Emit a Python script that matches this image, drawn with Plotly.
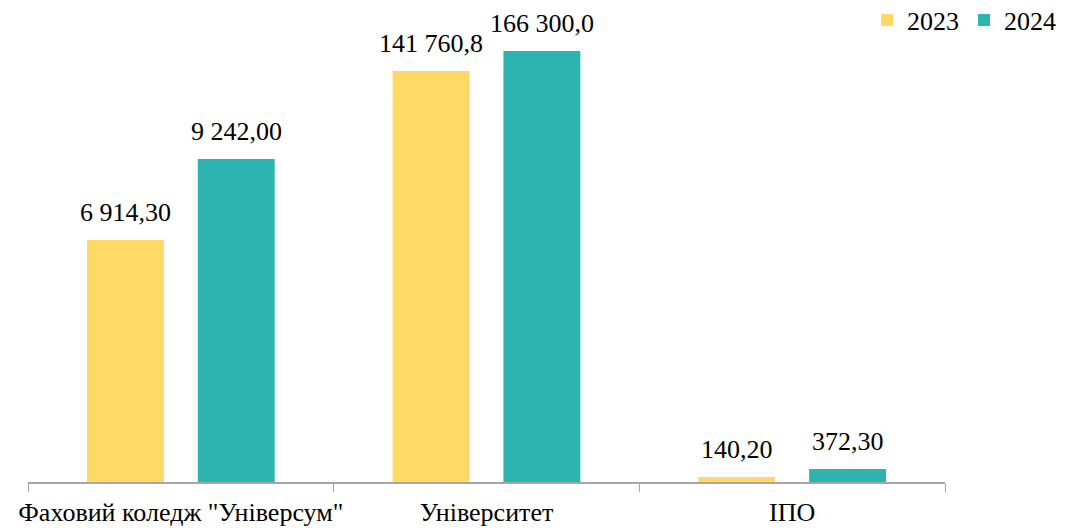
import plotly.graph_objects as go

# categories and series
categories = ['Фаховий коледж "Універсум"', 'Університет', 'ІПО']
years = ['2023', '2024']

# value labels as printed on the chart
labels_2023 = ['6 914,30', '141 760,8', '140,20']
labels_2024 = ['9 242,00', '166 300,0', '372,30']

# bar heights as drawn in the picture (the source chart is not to one scale)
height_2023 = [242, 411, 5]
height_2024 = [323, 431, 13]

colors = {'2023': '#FFD966', '2024': '#2BB4B0'}
FONT = 'Liberation Serif'

fig = go.Figure()

for year, heights in zip(years, [height_2023, height_2024]):
    fig.add_trace(go.Bar(
        x=categories,
        y=heights,
        name=year,
        marker_color=colors[year],
        marker_line_width=0,
        hoverinfo='skip'
    ))

# value labels above each bar
for heights, labels, shift in [(height_2023, labels_2023, -55.5),
                               (height_2024, labels_2024, 55.5)]:
    for cat, h, lab in zip(categories, heights, labels):
        fig.add_annotation(
            x=cat, y=h, text=lab, showarrow=False,
            xshift=shift, yshift=11, yanchor='bottom',
            font=dict(family=FONT, size=26, color='#000000')
        )

# page body has an 8px margin, so the figure is drawn 8px in from the corner
fig.update_layout(
    width=1058,
    height=521,
    margin=dict(l=20, r=121, t=12, b=47, autoexpand=False),
    plot_bgcolor='white',
    paper_bgcolor='white',
    barmode='group',
    bargap=0.275,
    bargroupgap=0.306,
    font=dict(family=FONT, size=26, color='#000000'),
    showlegend=True,
    legend=dict(
        orientation='h', x=0.915, xanchor='left', y=1.0, yanchor='middle',
        font=dict(family=FONT, size=26), itemwidth=30,
        bgcolor='rgba(0,0,0,0)', traceorder='normal'
    )
)

fig.update_xaxes(
    showline=True, linecolor='#A6A6A6', linewidth=1.5,
    ticks='outside', tickson='boundaries', ticklen=8, tickcolor='#A6A6A6',
    tickangle=0, automargin=False, ticklabelstandoff=6,
    tickfont=dict(family=FONT, size=26), showgrid=False
)
fig.update_yaxes(range=[0, 462], visible=False, showgrid=False, zeroline=False)

fig.write_html("out.html")
